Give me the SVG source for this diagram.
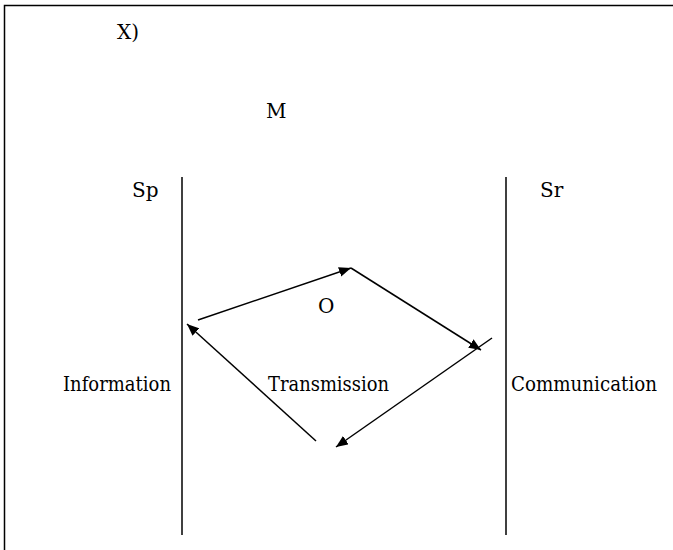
<svg xmlns="http://www.w3.org/2000/svg" width="673" height="550" viewBox="0 0 673 550">
<style>
.l{stroke:#000;stroke-width:1.5;fill:none}
.a{stroke:#000;stroke-width:1.5;fill:none;marker-end:url(#ah)}
</style>
<defs>
<marker id="ah" viewBox="0 0 12 10" refX="12" refY="5" markerWidth="12" markerHeight="10" markerUnits="userSpaceOnUse" orient="auto">
<path d="M0,0 L12,5 L0,10 z" fill="#000"/>
</marker>
</defs>
<rect width="673" height="550" fill="#fff"/>
<path class="l" d="M4.5,550 V5.5 H673"/>
<g id="labels">
<text x="117" y="39" style="font-family:'DejaVu Serif',serif;font-size:20px">X)</text>
<text x="266" y="118" style="font-family:'DejaVu Serif',serif;font-size:20px">M</text>
<text x="132" y="197" style="font-family:'DejaVu Serif',serif;font-size:20px">Sp</text>
<text x="540" y="197" style="font-family:'DejaVu Serif',serif;font-size:20px">Sr</text>
<text x="318" y="313" style="font-family:'DejaVu Serif',serif;font-size:20px">O</text>
</g>
<g id="sp"><line class="l" x1="182" y1="177" x2="182" y2="535"/><text x="63" y="391" textLength="108" lengthAdjust="spacingAndGlyphs" style="font-family:'DejaVu Serif',serif;font-size:20px">Information</text></g>
<g id="sr"><line class="l" x1="506" y1="177" x2="506" y2="535"/><text x="511" y="391" textLength="146" lengthAdjust="spacingAndGlyphs" style="font-family:'DejaVu Serif',serif;font-size:20px">Communication</text></g>
<g id="transmission"><text x="268" y="391" textLength="121" lengthAdjust="spacingAndGlyphs" style="font-family:'DejaVu Serif',serif;font-size:20px">Transmission</text></g>
<g id="connectors">
<line class="a" x1="198" y1="320" x2="351" y2="268"/>
<line class="a" x1="351" y1="268" x2="481" y2="350"/>
<line class="a" x1="492" y1="338" x2="336" y2="447"/>
<line class="a" x1="316" y1="441" x2="187" y2="324"/>
</g>
</svg>
